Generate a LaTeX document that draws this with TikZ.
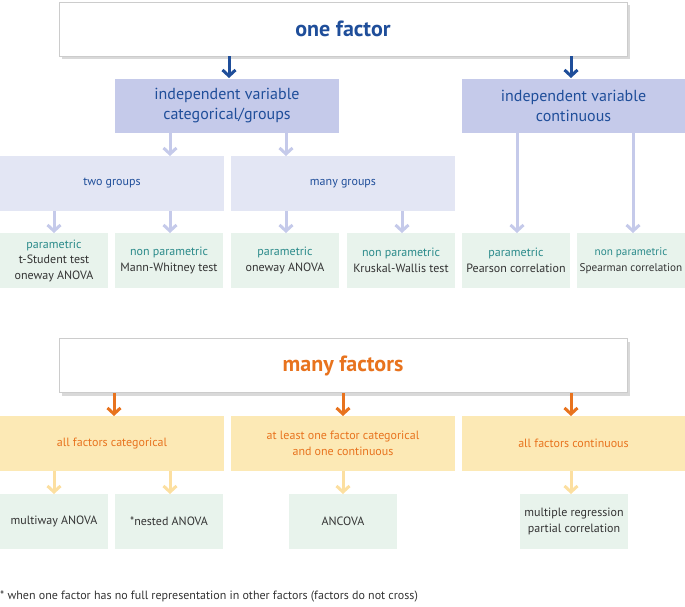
\documentclass[tikz,border=0pt]{standalone}
\usepackage{fontspec}
\setmainfont{PT Sans}
\usetikzlibrary{arrows.meta,shadows}
\definecolor{dblue}{HTML}{1F4E9A}
\definecolor{lblue}{HTML}{C5CAEA}
\definecolor{vlblue}{HTML}{E3E6F4}
\definecolor{lgreen}{HTML}{E8F3EC}
\definecolor{teal}{HTML}{2A8A8A}
\definecolor{orng}{HTML}{E8731E}
\definecolor{lyel}{HTML}{FCE9B5}
\definecolor{ayel}{HTML}{FCDFA0}
\definecolor{txt}{HTML}{333333}
\begin{document}
\begin{tikzpicture}[x=1pt,y=-1pt,
 title/.style={draw=black!20,fill=white,drop shadow={shadow xshift=3pt,shadow yshift=-3pt,opacity=0.3},minimum width=568pt,minimum height=54pt,font=\fontsize{22}{26}\selectfont\bfseries},
 iv/.style={fill=lblue,minimum width=224pt,minimum height=54pt,text=dblue,font=\fontsize{16}{20}\selectfont,align=center},
 grp/.style={fill=vlblue,minimum width=224pt,minimum height=55pt,text=dblue,font=\fontsize{12}{15}\selectfont,align=center},
 yel/.style={fill=lyel,minimum width=224pt,minimum height=55pt,text=orng,font=\fontsize{12}{16}\selectfont,align=center},
 leaf/.style={fill=lgreen,minimum width=108pt,minimum height=55pt,text=txt,font=\fontsize{12}{15.5}\selectfont,align=center,inner sep=1pt},
 darr/.style={draw=dblue,line width=3pt,-{Straight Barb[length=6pt,width=13pt]}},
 larr/.style={draw=lblue,line width=3pt,-{Straight Barb[length=6pt,width=13pt]}},
 oarr/.style={draw=orng,line width=3pt,-{Straight Barb[length=6pt,width=13pt]}},
 yarr/.style={draw=ayel,line width=3pt,-{Straight Barb[length=6pt,width=13pt]}}]
\useasboundingbox (0,0) rectangle (685,606);
\node[title,text=dblue] (one) at (343,29) {one factor};
\node[iv] (ivc) at (227,105.5) {independent variable\\categorical/groups};
\node[iv] (ivn) at (573.5,105.5) {independent variable\\continuous};
\node[grp] (two) at (112,183.5) {two groups};
\node[grp] (many) at (343,183.5) {many groups};
\node[leaf] (l1) at (54,260.5) {\textcolor{teal}{parametric}\\t-Student test\\oneway ANOVA};
\node[leaf] (l2) at (169,260.5) {\textcolor{teal}{non parametric}\\Mann-Whitney test};
\node[leaf] (l3) at (285,260.5) {\textcolor{teal}{parametric}\\oneway ANOVA};
\node[leaf] (l4) at (401,260.5) {\textcolor{teal}{non parametric}\\Kruskal-Wallis test};
\node[leaf] (l5) at (516,260.5) {\textcolor{teal}{parametric}\\Pearson correlation};
\node[leaf,font=\fontsize{11.2}{15.5}\selectfont] (l6) at (631,260.5) {\textcolor{teal}{non parametric}\\Spearman correlation};
\draw[darr] (229,56) -- (229,78);
\draw[darr] (571,56) -- (571,78);
\draw[larr] (170,133) -- (170,156);
\draw[larr] (286,133) -- (286,156);
\draw[larr] (54,211) -- (54,233);
\draw[larr] (170,211) -- (170,233);
\draw[larr] (286,211) -- (286,233);
\draw[larr] (402,211) -- (402,233);
\draw[larr] (517,133) -- (517,233);
\draw[larr] (633,133) -- (633,233);
\node[title,text=orng] (mf) at (343,365.5) {many factors};
\node[yel] (y1) at (112,443.5) {all factors categorical};
\node[yel] (y2) at (343,443.5) {at least one factor categorical\\and one continuous};
\node[yel] (y3) at (573.5,443.5) {all factors continuous};
\node[leaf] (m1) at (54,521.5) {multiway ANOVA};
\node[leaf] (m2) at (169,521.5) {*nested ANOVA};
\node[leaf] (m3) at (343,521.5) {ANCOVA};
\node[leaf] (m4) at (574,521.5) {multiple regression\\partial correlation};
\draw[oarr] (114,393) -- (114,416);
\draw[oarr] (343,393) -- (343,416);
\draw[oarr] (571,393) -- (571,416);
\draw[yarr] (54,471) -- (54,494);
\draw[yarr] (170,471) -- (170,494);
\draw[yarr] (343,471) -- (343,494);
\draw[yarr] (571,471) -- (571,494);
\node[anchor=west,text=txt,font=\fontsize{12}{14}\selectfont,inner sep=0pt] (fn) at (0,597) {* when one factor has no full representation in other factors (factors do not cross)};
\end{tikzpicture}
\end{document}
